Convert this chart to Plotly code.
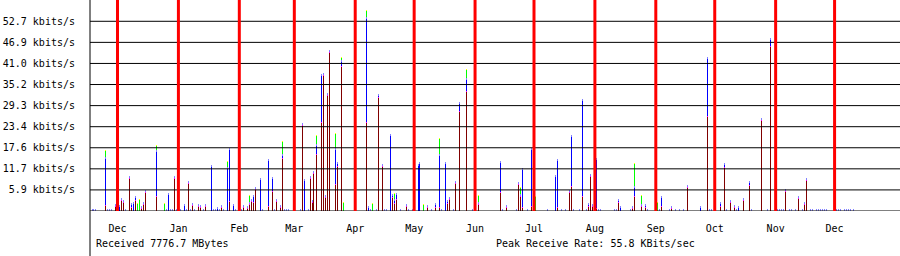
import plotly.graph_objects as go

# ---------------- data ----------------
month_days = [0, 31, 62, 90, 121, 151, 182, 212, 243, 274, 304, 335, 365]
month_labels = ["Dec", "Jan", "Feb", "Mar", "Apr", "May", "Jun", "Jul", "Aug",
                "Sep", "Oct", "Nov", "Dec"]
y_ticks = [5.86, 11.72, 17.58, 23.44, 29.30, 35.16, 41.02, 46.88, 52.74]
y_labels = ["5.9 kbits/s", "11.7 kbits/s", "17.6 kbits/s", "23.4 kbits/s",
            "29.3 kbits/s", "35.2 kbits/s", "41.0 kbits/s", "46.9 kbits/s",
            "52.7 kbits/s"]

# sample position in days since 1 Dec
day = [
    -12.9, -12.1, -11.2, -6.0, -4.9, -3.9, -2.9, -0.9, 1.2, 2.2,
    3.2, 4.2, 6.3, 7.3, 8.3, 9.3, 10.3, 11.4, 12.4, 13.4,
    14.4, 20.1, 24.1, 25.1, 26.1, 27.1, 28.2, 29.2, 30.2,
    32.1, 34.3, 35.3, 36.3, 37.3, 38.3, 39.4, 41.3, 42.4, 43.9,
    45.0, 48.0, 49.0, 50.0, 51.1, 52.1, 53.1, 54.1, 56.2, 57.2,
    59.2, 60.2, 63.3, 64.3, 66.3, 67.4, 68.4, 69.4, 70.4, 73.0,
    74.0, 77.0, 79.1, 80.1, 81.1, 83.1, 84.2, 85.2, 86.2, 87.2,
    93.3, 94.3, 95.4, 97.4, 98.4, 99.0, 99.9, 101.5, 104.0, 105.0,
    106.0, 107.1, 108.1, 111.1, 112.2, 114.2, 115.2,
    126.9, 127.9, 128.9, 130.0, 132.0, 133.0, 135.1, 136.1, 137.1, 139.1,
    140.1, 141.2, 142.2, 144.2, 147.3, 148.3, 150.3, 153.4, 153.9, 155.9,
    158.0, 160.0, 162.0, 164.1, 165.1, 167.1, 168.1, 169.2, 171.2, 172.2,
    174.3, 177.8, 180.9,
    183.9, 195.1, 196.1, 198.2, 203.3, 204.3, 205.3, 206.3, 208.9, 210.9,
    212.9, 219.1, 223.1, 224.1, 226.2, 228.2, 230.3, 231.3, 232.3, 235.3,
    236.9, 238.9, 239.9, 240.9, 242.0, 244.0, 245.0, 246.0,
    253.2, 254.2, 255.2, 256.2, 261.3, 262.3, 263.3, 266.9, 268.9, 270.0,
    275.1, 276.1, 277.1, 281.2, 282.2, 284.2, 286.2, 288.3, 290.3, 296.9,
    300.5, 301.5, 302.5, 307.1, 309.2, 310.2, 312.2, 314.2, 315.3, 316.3,
    318.8, 321.9, 322.9, 328.0, 331.0, 332.6, 336.0, 337.0, 338.0, 339.0,
    340.2, 342.2, 343.3, 345.3, 346.8, 348.9, 349.9, 350.9, 352.9, 354.0,
    356.0, 357.0, 358.0, 359.0, 360.1, 361.1, 366.2, 367.2, 368.2, 370.2,
    371.3, 372.3, 373.3, 374.8,
]

# kbits/s, dark red series
red = [
    0, 0, 0, 1.4, 0, 0, 0, 1.1, 0, 2.8,
    2.1, 0, 8.9, 0.8, 0, 2.9, 0, 0, 0.5, 1.8,
    4.9, 3.9, 0, 0, 0, 0, 0, 8.9, 0,
    0, 0, 0, 7.6, 0, 1.3, 0, 1.2, 0.7, 0,
    1.2, 0, 0, 0, 0, 0, 0.7, 0, 0, 2.4,
    0, 0, 0, 0.8, 0.5, 1.7, 2.4, 2.2, 5.8, 0,
    0, 1.1, 5.4, 0, 2.6, 0.9, 14.4, 0, 0, 0,
    0, 23.6, 0, 0, 8.8, 2.1, 10.3, 15.7, 24.6, 37.5,
    3.7, 31.9, 44.0, 7.3, 12.2, 40.1, 0,
    24.6, 0, 0, 0, 0, 31.5, 12.3, 0, 0, 0,
    3.6, 1.9, 3.1, 0, 1.2, 0, 0, 0, 0, 0,
    0.8, 0, 0.8, 0.9, 0, 0, 2.0, 3.1, 0, 7.4,
    27.4, 33.1, 0,
    1.7, 4.9, 0, 0.8, 0, 7.2, 4.0, 0.8, 0, 1.2,
    0, 0, 0, 0.8, 0, 0, 4.9, 6.8, 0, 0,
    4.0, 0, 1.0, 9.4, 1.2, 0.5, 0, 0,
    0, 0, 2.1, 0, 0, 0.5, 3.8, 1.0, 0.8, 0,
    0, 0, 1.0, 0, 0.6, 0, 0, 0, 6.3, 0,
    26.2, 0, 0, 1.2, 11.9, 0, 2.3, 0.8, 0, 0,
    2.8, 6.9, 0, 25.1, 0, 45.5, 0, 0, 0, 0,
    5.4, 0, 0, 0, 3.3, 0, 1.8, 8.3, 0, 0,
    0, 0, 0, 0, 0, 0, 0, 0, 0, 0,
    0, 0, 0, 0,
]

# kbits/s, blue series
blue = [
    0, 0, 0, 12.8, 0, 0, 0, 0, 1.2, 0,
    0, 0, 0, 0.6, 1.9, 0.3, 0, 0, 0, 0,
    0, 12.1, 0, 0, 4.4, 0, 0, 0, 0,
    0, 1.3, 0, 0, 0, 0, 0, 0, 0, 0,
    0, 12.3, 0, 0, 0.6, 0, 0, 0, 11.7, 14.2,
    1.5, 0, 0, 0, 0, 0, 0, 1.5, 0, 8.7,
    0, 12.6, 3.2, 0, 0, 0, 0.6, 0, 0, 0,
    0, 0, 8.3, 0, 0, 0, 0, 2.1, 12.6, 0,
    0, 0, 0, 9.4, 0.5, 1.0, 0,
    28.4, 0.8, 0, 0, 0, 0.3, 0, 0, 0, 20.9,
    0.3, 0.6, 1.0, 0, 0, 0, 0, 12.4, 13.1, 0,
    0, 0, 0.6, 14.1, 0, 13.2, 0.3, 0, 0, 0,
    2.2, 3.1, 0,
    0, 8.3, 0, 0, 0, 0, 0, 10.2, 0, 15.4,
    0, 0, 9.4, 12.8, 0, 0, 0, 13.4, 0, 0,
    26.4, 0, 0.5, 0, 0, 13.4, 0, 0,
    0, 0, 0.4, 0.8, 0, 0, 2.2, 0, 0.4, 0,
    0, 0, 2.3, 0, 0, 0, 0, 0, 0, 0.8,
    15.8, 0, 0, 0.5, 0.6, 0, 0, 0, 0, 0.8,
    0, 0.5, 0, 0, 0, 1.8, 0, 0, 0, 0,
    0, 0, 0, 0, 0, 0, 0, 0, 0, 0,
    0, 0, 0, 0, 0, 0, 0, 0, 0, 0,
    0, 0, 0, 0,
]

# kbits/s, green series
green = [
    0, 0, 0, 1.6, 0, 0, 0, 0, 0, 0,
    0, 0, 0, 0, 0, 0, 1.9, 3.0, 0, 0,
    0, 1.2, 1.9, 0, 0, 0, 0, 0, 0,
    0, 0, 0, 0, 0, 0, 0, 0, 0, 0,
    0, 0, 0, 0, 0, 0, 0, 0, 1.4, 0,
    0, 0, 0, 0, 0, 1.7, 0, 0, 0, 0,
    0, 0, 0, 0, 0, 0, 3.3, 0, 0, 0,
    0, 0, 0, 0, 0, 0, 0, 2.3, 0, 0,
    0, 0, 0, 3.8, 0, 0.5, 2.1,
    1.9, 0, 0, 1.9, 0, 0, 0, 0, 0, 0,
    0, 1.5, 0, 0, 0, 0, 0, 0, 0, 1.7,
    0, 0, 0, 4.1, 0, 0, 0, 0, 0, 0,
    0, 2.1, 0,
    1.5, 0, 0, 0, 0, 0, 1.6, 0, 0, 0,
    3.9, 0, 0, 0, 0, 0, 0, 0, 0, 0,
    0, 0, 0, 0, 0, 0, 0, 0,
    0, 0, 0, 0, 0, 0, 6.2, 2.3, 0, 0,
    2.3, 0, 0, 0, 0, 0, 0, 0, 0, 0,
    0, 0, 0, 0, 0, 0, 0, 0, 0, 0,
    0, 0, 0, 0, 0, 0, 0, 0, 0, 0,
    0, 0, 0, 0, 0, 0, 0, 0, 0, 0,
    0, 0, 0, 0, 0, 0, 0, 0, 0, 0,
    0, 0, 0, 0,
]

received_text = "Received 7776.7 MBytes"
peak_text = "Peak Receive Rate: 55.8 KBits/sec"

n = len(day)
assert len(red) == n and len(blue) == n and len(green) == n, (n, len(red), len(blue), len(green))

# ---------------- style ----------------
FONT = dict(family="DejaVu Sans Mono", size=10, color="black")
MAG, CAP, YEL = 0.28, 0.56, 0.28   # thin 1-2 px marker bands
BAR_W = 0.51
X0, X1 = -14.0, 398.3
YMAX = 58.66

mag = [MAG if r > 0 else 0 for r in red]
cap = [0 if (g > 0 and r + b == 0) else CAP for r, b, g in zip(red, blue, green)]
yel = [YEL if g > 0 else 0 for g in green]

layers = [(red, "#800000"), (mag, "#ff00ff"), (blue, "#0000ff"),
          (cap, "#8080ff"), (green, "#00ff00"), (yel, "#ffff00")]

fig = go.Figure()
for vals, col in layers:
    fig.add_trace(go.Bar(x=day, y=vals, width=BAR_W,
                         marker=dict(color=col, line=dict(width=0)),
                         hoverinfo="skip"))

shapes = []
for v in y_ticks:
    shapes.append(dict(type="line", xref="paper", x0=0, x1=1, yref="y", y0=v, y1=v,
                       line=dict(color="black", width=1), layer="above"))
shapes.append(dict(type="line", xref="paper", x0=0, x1=1, yref="y", y0=0, y1=0,
                   line=dict(color="black", width=1), layer="above"))
for d in month_days:
    shapes.append(dict(type="line", xref="x", x0=d, x1=d, yref="paper", y0=0, y1=1,
                       line=dict(color="#ff0000", width=3), layer="above"))
shapes.append(dict(type="line", xref="paper", x0=0, x1=0, yref="paper",
                   y0=-45 / 211, y1=1, line=dict(color="black", width=1), layer="above"))

fig.update_layout(
    width=900, height=256,
    margin=dict(l=90, r=0, t=0, b=45, pad=0),
    paper_bgcolor="white", plot_bgcolor="white",
    barmode="stack", bargap=0, showlegend=False,
    font=FONT, shapes=shapes,
    annotations=[
        dict(text=received_text, xref="paper", yref="paper", x=4 / 810, y=-32 / 211,
             xanchor="left", yanchor="middle", showarrow=False, font=FONT),
        dict(text=peak_text, xref="paper", yref="paper", x=404 / 810, y=-32 / 211,
             xanchor="left", yanchor="middle", showarrow=False, font=FONT),
    ],
)
fig.update_xaxes(range=[X0, X1], tickvals=month_days, ticktext=month_labels,
                 showgrid=False, zeroline=False, showline=False, ticks="",
                 tickfont=FONT, ticklabelstandoff=10, fixedrange=True)
fig.update_yaxes(range=[0, YMAX], tickvals=y_ticks, ticktext=y_labels,
                 showgrid=False, zeroline=False, showline=False, ticks="",
                 tickfont=FONT, ticklabelstandoff=14, fixedrange=True)

fig.write_html("out.html", config=dict(displayModeBar=False, staticPlot=True))
